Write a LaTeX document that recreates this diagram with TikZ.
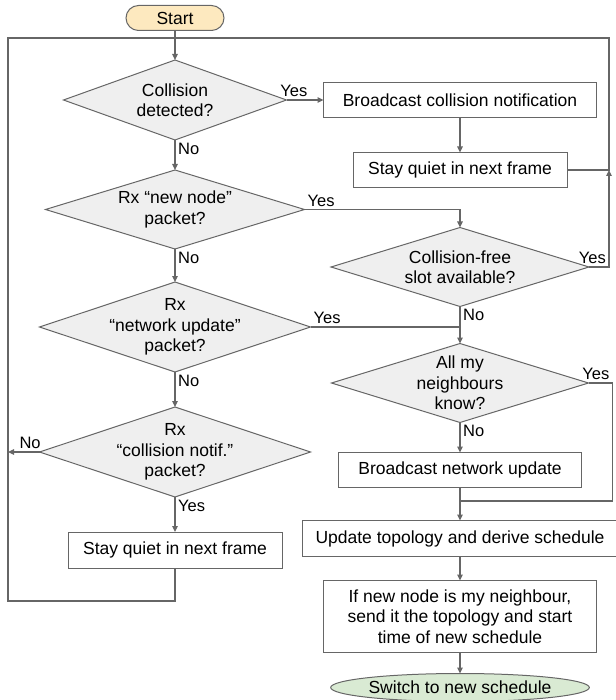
\documentclass[tikz,border=0pt]{standalone}
\usepackage{fontspec}
\setmainfont{Liberation Sans}
\usepackage{xcolor}
\usetikzlibrary{shapes,arrows.meta,positioning}

\definecolor{linegray}{HTML}{666666}
\definecolor{decfill}{HTML}{EFEFEF}
\definecolor{startfill}{HTML}{FDE9BF}
\definecolor{endfill}{HTML}{D9EAD3}

\begin{document}
\begin{tikzpicture}[
    x=1pt, y=-1pt,
    font=\fontsize{17.5}{20.5}\selectfont,
    node distance=30pt,
    process/.style={rectangle, draw=linegray, line width=1pt, outer sep=0pt, minimum height=35pt, align=center, inner sep=2pt},
    decision/.style={diamond, draw=linegray, line width=1pt, outer sep=0pt, fill=decfill, inner sep=0pt},
    terminal/.style={rectangle, rounded corners=12.5pt, draw=linegray, line width=1pt, outer sep=0pt, minimum height=25pt},
    every label/.style={align=center, inner sep=0pt},
    connector/.style={draw=linegray, line width=1.2pt},
    arrow/.style={connector, -{Triangle[length=6pt,width=5.5pt]}},
    answer/.style={font=\fontsize{16.5}{19}\selectfont, inner sep=2.5pt}
]
\useasboundingbox (0,0) rectangle (615,700);

\node[terminal, fill=startfill, minimum width=98pt] (start) at (175,18) {Start};
\node[decision, minimum width=223pt, minimum height=80pt, below=29.5pt of start,
      label={center:Collision\\detected?}] (coll) {};
\node[decision, minimum width=259pt, minimum height=79pt, below=30pt of coll,
      label={center:Rx “new node”\\packet?}] (newnode) {};
\node[decision, minimum width=271pt, minimum height=90pt, below=33pt of newnode,
      label={center:Rx\\“network update”\\packet?}] (netupd) {};
\node[decision, minimum width=271pt, minimum height=90pt, below=35pt of netupd,
      label={center:Rx\\“collision notif.”\\packet?}] (collnotif) {};
\node[process, minimum width=214pt, minimum height=36pt, below=35pt of collnotif] (quietl) {Stay quiet in next frame};

\node[process, minimum width=273pt, right=37pt of coll] (bcoll) {Broadcast collision notification};
\node[process, minimum width=214pt, below=35pt of bcoll] (quietr) {Stay quiet in next frame};
\node[decision, minimum width=258pt, minimum height=79pt, below=40pt of quietr,
      label={center:Collision-free\\slot available?}] (free) {};
\node[decision, minimum width=257pt, minimum height=79pt, below=37pt of free,
      label={center:All my\\neighbours\\know?}] (know) {};
\node[process, minimum width=243pt, below=30pt of know] (bnet) {Broadcast network update};
\node[process, minimum width=316pt, minimum height=36pt, below=33pt of bnet] (topo) {Update topology and derive schedule};
\node[process, minimum width=273pt, minimum height=72pt, below=24pt of topo] (inform) {If new node is my neighbour,\\send it the topology and start\\time of new schedule};
\node[ellipse, draw=linegray, line width=1pt, outer sep=0pt, fill=endfill, minimum width=253pt, minimum height=28pt,
      inner sep=0pt, below=21pt of inform] (switch) {Switch to new schedule};

\coordinate (topjoin) at (175,38);
\coordinate (leftjoin) at (8,452);
\coordinate (rightjoin) at (609,170);
\coordinate (lowjoin) at (460,501);

\draw[arrow] (start) -- (coll);
\draw[arrow] (coll) -- node[answer, pos=0.2, above] {Yes} (bcoll);
\draw[arrow] (coll) -- node[answer, pos=0, below right] {No} (newnode);
\draw[arrow] (newnode) -- node[answer, pos=0, below right] {No} (netupd);
\draw[arrow] (netupd) -- node[answer, pos=0, below right] {No} (collnotif);
\draw[arrow] (collnotif) -- node[answer, pos=0, below right] {Yes} (quietl);
\draw[arrow] (collnotif.west) -- node[answer, pos=0.3, above] {No} (leftjoin);
\draw[connector] (quietl.south) -- ++(0,33) -| (leftjoin) |- (topjoin);

\draw[arrow] (bcoll) -- (quietr);
\draw[connector] (quietr) -- (rightjoin) |- (topjoin);
\draw[arrow] (newnode.east) -| node[answer, pos=0, above right] {Yes} (free.north);
\draw[arrow] (free.east) -| node[answer, pos=0.5, above left] {Yes} (rightjoin);
\draw[arrow] (free) -- node[answer, pos=0, below right] {No} (know);
\draw[connector] (netupd.east) -- node[answer, pos=0, above right] {Yes} (netupd.east -| free.south);
\draw[arrow] (know) -- node[answer, pos=0, below right] {No} (bnet);
\draw[connector] (know.east) -- node[answer, pos=1, above left] {Yes} ++(24,0) |- (lowjoin);
\draw[arrow] (bnet) -- (topo);
\draw[arrow] (topo) -- (inform);
\draw[arrow] (inform) -- (switch);
\end{tikzpicture}
\end{document}
